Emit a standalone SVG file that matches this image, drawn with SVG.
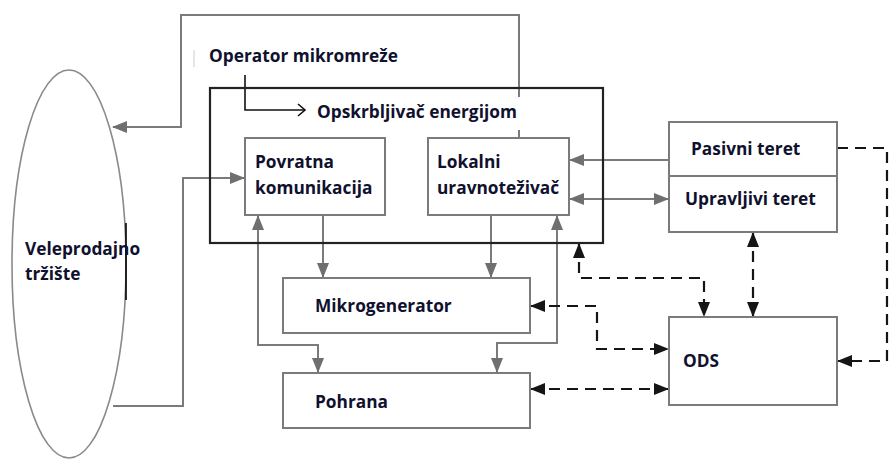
<svg xmlns="http://www.w3.org/2000/svg" width="896" height="459" viewBox="0 0 896 459">
<style>
.t{font-family:"Open Sans","Liberation Sans",sans-serif;font-weight:bold;font-size:17.3px;fill:#10112e}
.box{fill:#fff;stroke:#7b7b7b;stroke-width:2}
.g{fill:none;stroke:#7b7b7b;stroke-width:2}
.d{fill:none;stroke:#151515;stroke-width:2.2;stroke-dasharray:11 7}
</style>
<defs>
<marker id="ag" markerUnits="userSpaceOnUse" markerWidth="15" markerHeight="12" refX="14" refY="6" orient="auto-start-reverse"><path d="M0,0 L15,6 L0,12 z" fill="#6f6f6f"/></marker>
<marker id="ab" markerUnits="userSpaceOnUse" markerWidth="15" markerHeight="12" refX="14" refY="6" orient="auto-start-reverse"><path d="M0,0 L15,6 L0,12 z" fill="#151515"/></marker>
<marker id="ao" markerUnits="userSpaceOnUse" markerWidth="10" markerHeight="14" refX="8" refY="7" orient="auto"><path d="M1,1 L8,7 L1,13" fill="none" stroke="#111" stroke-width="1.6"/></marker>
</defs>
<rect width="896" height="459" fill="#fff"/>

<g id="connectors">
<path class="g" d="M519,97 V15 H181 V127 H113" marker-end="url(#ag)"/>
<line class="g" x1="519" y1="130" x2="519" y2="138"/>
<path class="g" d="M113,406 H183 V178 H244" marker-end="url(#ag)"/>
<path class="g" d="M258,216 V345 H318 V372" marker-start="url(#ag)" marker-end="url(#ag)"/>
<path class="g" d="M323,216 V277" marker-end="url(#ag)"/>
<path class="g" d="M491,216 V277" marker-end="url(#ag)"/>
<path class="g" d="M557,216 V343 H497 V372" marker-start="url(#ag)" marker-end="url(#ag)"/>
<path class="g" d="M669,160 H570" marker-end="url(#ag)"/>
<path class="g" d="M570,199 H668" marker-start="url(#ag)" marker-end="url(#ag)"/>
<path class="d" d="M579,244 V278 H704 V316" marker-start="url(#ab)" marker-end="url(#ab)"/>
<path class="d" d="M753,233 V316" marker-start="url(#ab)" marker-end="url(#ab)"/>
<path class="d" d="M531,306 H597 V349 H668" marker-start="url(#ab)" marker-end="url(#ab)"/>
<path class="d" d="M531,389 H668" marker-start="url(#ab)" marker-end="url(#ab)"/>
<path class="d" d="M837,148 H887 V361 H838" marker-end="url(#ab)"/>
<path d="M245,75 V110 H305" fill="none" stroke="#111" stroke-width="1.6" marker-end="url(#ao)"/>
<line x1="194" y1="50" x2="194" y2="67" stroke="#ccc" stroke-width="1"/>
</g>

<g id="veleprodajno">
<ellipse cx="69" cy="264" rx="57" ry="194" fill="none" stroke="#8a8a8a" stroke-width="1.6"/>
<line x1="126" y1="223" x2="126" y2="300" stroke="#000" stroke-width="1.6"/>
<text class="t" x="25" y="255">Veleprodajno</text>
<text class="t" x="25" y="280">tržište</text>
</g>

<g id="operator">
<text class="t" x="209" y="62">Operator mikromreže</text>
</g>

<g id="opskrbljivac">
<rect x="210" y="88" width="393" height="155" fill="none" stroke="#222" stroke-width="2.2"/>
<text class="t" x="317" y="118">Opskrbljivač energijom</text>
</g>

<g id="povratna">
<rect class="box" x="245" y="138" width="140" height="77"/>
<text class="t" x="255" y="168">Povratna</text>
<text class="t" x="255" y="194">komunikacija</text>
</g>

<g id="lokalni">
<rect class="box" x="428" y="138" width="141" height="77"/>
<text class="t" x="437" y="168">Lokalni</text>
<text class="t" x="437" y="194">uravnoteživač</text>
</g>

<g id="tereti">
<rect class="box" x="669" y="122" width="168" height="110"/>
<line x1="669" y1="176" x2="837" y2="176" stroke="#7b7b7b" stroke-width="2"/>
<text class="t" x="691" y="155">Pasivni teret</text>
<text class="t" x="685" y="205">Upravljivi teret</text>
</g>

<g id="mikrogenerator">
<rect class="box" x="283" y="278" width="247" height="55"/>
<text class="t" x="315" y="312">Mikrogenerator</text>
</g>

<g id="pohrana">
<rect class="box" x="283" y="373" width="247" height="55"/>
<text class="t" x="315" y="408">Pohrana</text>
</g>

<g id="ods">
<rect class="box" x="669" y="317" width="168" height="88"/>
<text class="t" x="683" y="367">ODS</text>
</g>
</svg>
